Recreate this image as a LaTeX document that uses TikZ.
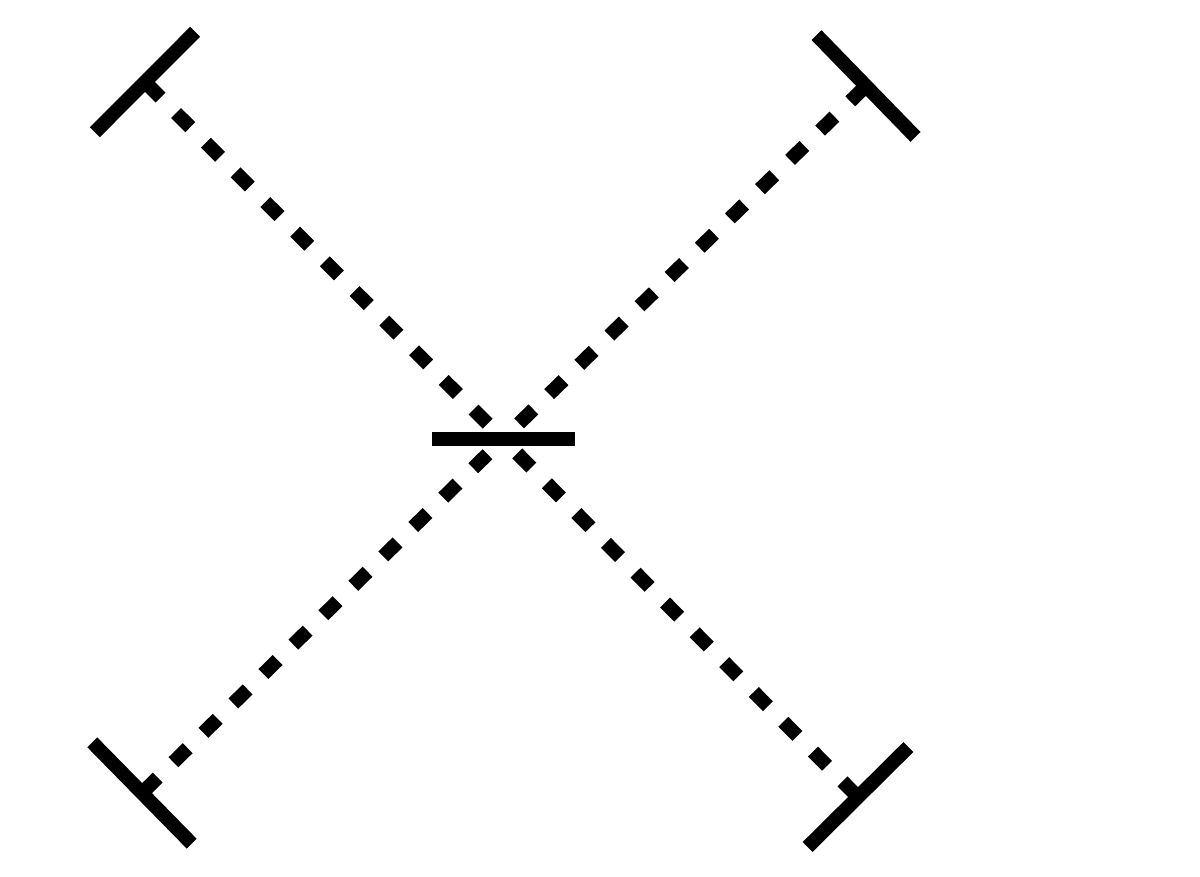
\documentclass[tikz,border=0pt]{standalone}
\usetikzlibrary{calc}
\begin{document}
\begin{tikzpicture}[x=0.02cm,y=-0.02cm,
  thick line/.style={line width=0.28cm, line cap=butt, black},
  dotline/.style={thick line, dash pattern=on 0.4cm off 0.44cm, dash phase=-0.04cm},
  bar/.style={thick line}]
\useasboundingbox (0,0) rectangle (1200,876);
\coordinate (c) at (503,439);
\coordinate (tl) at (145,82);
\coordinate (tr) at (866,86);
\coordinate (bl) at (142,793);
\coordinate (br) at (858,797);
\foreach \e in {tl,tr,bl,br}{
  \draw[dotline] (\e) -- (c);
  \draw[bar] ($(\e)!1.42cm!90:(c)$) -- ($(\e)!1.42cm!-90:(c)$);
}
\draw[bar] ($(c)+(-71,0)$) -- ($(c)+(72,0)$);
\end{tikzpicture}
\end{document}
